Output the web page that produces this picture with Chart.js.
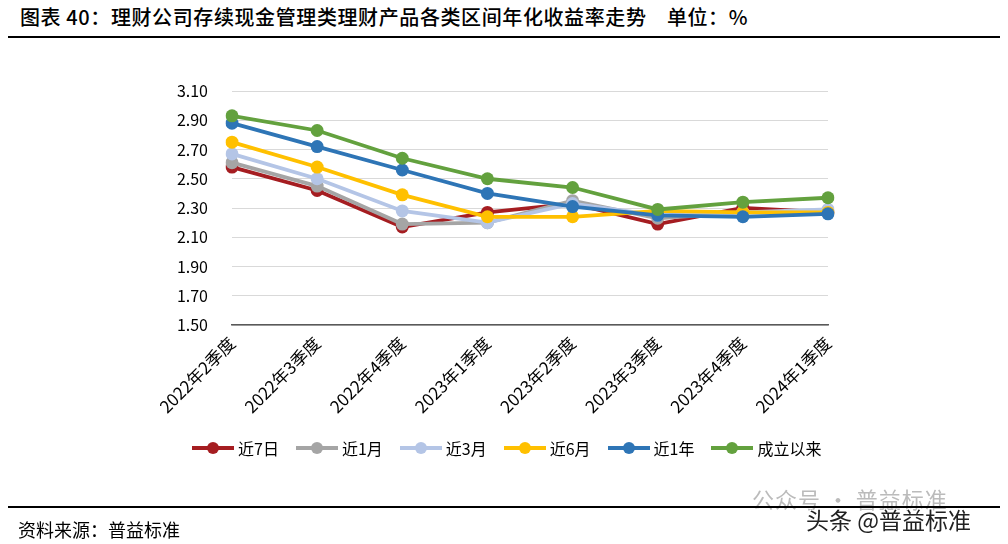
<!DOCTYPE html>
<html>
<head>
<meta charset="utf-8">
<script src="https://cdn.jsdelivr.net/npm/chart.js@4.4.1/dist/chart.umd.min.js"></script>
<style>
  body { margin: 0; background: #fff; font-family: "Noto Sans CJK SC", sans-serif; }
  #wrap { position: relative; width: 1008px; height: 544px; overflow: hidden; }
  #chartBox { position: absolute; left: 0; top: 0; width: 1008px; height: 544px; }
  .title { position: absolute; left: 20px; top: 2px; font-size: 20px; font-weight: 500; letter-spacing: 0.6px; color: #000; white-space: pre; }
  .rule { position: absolute; left: 8px; width: 992px; height: 2px; background: #000; }
  .source { position: absolute; left: 18px; top: 516px; font-size: 18px; color: #000; }
  .wm1 { position: absolute; left: 752px; top: 482px; font-size: 22px; letter-spacing: 1px; color: #bbb; }
  .wm2 { position: absolute; left: 806px; top: 502px; font-size: 23px; color: #222;
         text-shadow: -1px -1px 0 #fff, 1px -1px 0 #fff, -1px 1px 0 #fff, 1px 1px 0 #fff; }
  #legend { position: absolute; left: 192px; top: 436px; display: flex; font-size: 16px; color: #000; }
  .item { display: flex; align-items: center; margin-right: 17px; }
  .swatch { position: relative; width: 42px; height: 4px; margin-right: 4px; }
  .swatch i { position: absolute; left: 15px; top: -4px; width: 12px; height: 12px; border-radius: 50%; }
</style>
</head>
<body>
<div id="wrap">
  <div class="title">图表 40：理财公司存续现金管理类理财产品各类区间年化收益率走势    单位：%</div>
  <div class="rule" style="top:36px"></div>
  <div id="chartBox"><canvas id="yieldChart"></canvas></div>
  <div id="legend"></div>
  <div class="wm1">公众号 · 普益标准</div>
  <div class="rule" style="top:506px"></div>
  <div class="wm2">头条 @普益标准</div>
  <div class="source">资料来源：普益标准</div>
</div>
<script>
const quarters = ["2022年2季度", "2022年3季度", "2022年4季度", "2023年1季度", "2023年2季度", "2023年3季度", "2023年4季度", "2024年1季度"];

const last7d   = [2.58, 2.42, 2.17, 2.27, 2.33, 2.19, 2.30, 2.27];
const last1m   = [2.61, 2.45, 2.19, 2.20, 2.35, 2.23, 2.27, 2.27];
const last3m   = [2.67, 2.50, 2.28, 2.20, 2.33, 2.25, 2.27, 2.29];
const last6m   = [2.75, 2.58, 2.39, 2.24, 2.24, 2.28, 2.27, 2.27];
const last1y   = [2.88, 2.72, 2.56, 2.40, 2.31, 2.25, 2.24, 2.26];
const sinceNew = [2.93, 2.83, 2.64, 2.50, 2.44, 2.29, 2.34, 2.37];

const yTicks = [1.5, 1.7, 1.9, 2.1, 2.3, 2.5, 2.7, 2.9, 3.1];

const series = [
  { name: "近7日", data: last7d, color: "#a51d21" },
  { name: "近1月", data: last1m, color: "#a5a5a5" },
  { name: "近3月", data: last3m, color: "#b4c5e6" },
  { name: "近6月", data: last6m, color: "#ffc000" },
  { name: "近1年", data: last1y, color: "#2e75b6" },
  { name: "成立以来", data: sinceNew, color: "#63a13e" }
];

const fontFamily = '"Noto Sans CJK SC", sans-serif';

new Chart(document.getElementById("yieldChart"), {
  type: "line",
  data: {
    labels: quarters,
    datasets: series.map((s, i) => ({
      label: s.name,
      data: s.data,
      borderColor: s.color,
      backgroundColor: s.color,
      pointBackgroundColor: s.color,
      pointBorderWidth: 0,
      pointRadius: 6.5,
      pointHoverRadius: 6.5,
      borderWidth: 3.8,
      tension: 0,
      fill: false,
      order: series.length - i
    }))
  },
  options: {
    responsive: true,
    maintainAspectRatio: false,
    animation: false,
    events: [],
    layout: { padding: { left: 0, top: 91, right: 180, bottom: 109 } },
    plugins: {
      legend: { display: false },
      tooltip: { enabled: false }
    },
    scales: {
      x: {
        offset: false,
        grid: { display: false, drawTicks: false },
        border: { display: true, color: "#595959", width: 1.5 },
        ticks: {
          color: "#000",
          font: { family: fontFamily, size: 17 },
          minRotation: 45,
          maxRotation: 45,
          padding: 8,
          autoSkip: false
        },
        afterFit: (scale) => { scale.height = 110; }
      },
      y: {
        min: yTicks[0],
        max: yTicks[yTicks.length - 1],
        afterBuildTicks: (scale) => { scale.ticks = yTicks.map(v => ({ value: v })); },
        grid: { color: "#d9d9d9", lineWidth: 1, drawTicks: false },
        border: { display: false },
        ticks: {
          color: "#000",
          font: { family: fontFamily, size: 16 },
          padding: 24,
          callback: (v) => Number(v).toFixed(2)
        },
        afterFit: (scale) => { scale.width = 232; }
      }
    }
  }
});

const legend = document.getElementById("legend");
series.forEach(s => {
  const item = document.createElement("div");
  item.className = "item";
  item.innerHTML = '<span class="swatch" style="background:' + s.color + '"><i style="background:' + s.color + '"></i></span><span>' + s.name + '</span>';
  legend.appendChild(item);
});
</script>
</body>
</html>
